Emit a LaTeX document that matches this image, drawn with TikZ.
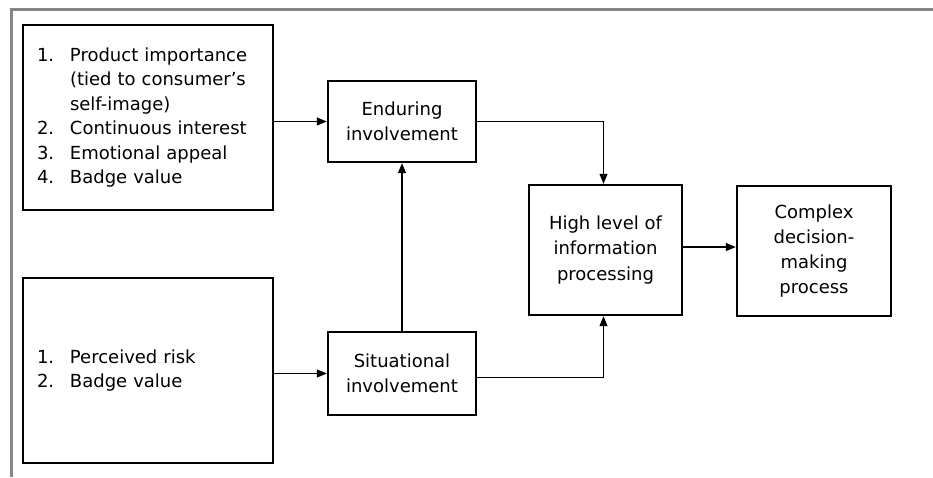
\documentclass[tikz,border=0pt]{standalone}
\usepackage{fontspec}
\setmainfont{DejaVu Sans}
\usetikzlibrary{arrows.meta}
\newcommand{\numitem}[1]{\makebox[33pt][l]{#1}}
\begin{document}
\begin{tikzpicture}[x=1pt,y=-1pt,
  box/.style={draw,line width=2.4pt,inner sep=0pt,font=\fontsize{18}{24.5}\selectfont},
  conn/.style={line width=1.1pt,-{Triangle[length=10pt,width=8pt]}}]
\useasboundingbox (0,0) rectangle (933,477);
\fill[white] (0,0) rectangle (933,477);
\draw[gray!95, line width=3pt] (933,9) -- (11,9) -- (11,477);

\node[box, minimum width=250pt, minimum height=185pt, text width=222pt, align=left] (f1) at (148,117.5)
  {\numitem{1.}Product importance\\
   \hspace*{33pt}(tied to consumer's\\
   \hspace*{33pt}self-image)\\
   \numitem{2.}Continuous interest\\
   \numitem{3.}Emotional appeal\\
   \numitem{4.}Badge value};
\node[box, minimum width=250pt, minimum height=185pt, text width=222pt, align=left] (f2) at (148,370.5)
  {\numitem{1.}Perceived risk\\
   \numitem{2.}Badge value};
\node[box, minimum width=148pt, minimum height=81pt, align=center] (e) at (402,121.5)
  {Enduring\\involvement};
\node[box, minimum width=148pt, minimum height=83pt, align=center] (s) at (402,373.5)
  {Situational\\involvement};
\node[box, minimum width=153pt, minimum height=130pt, align=center, font=\fontsize{18}{25.5}\selectfont] (h) at (605.5,250)
  {High level of\\information\\processing};
\node[box, minimum width=154pt, minimum height=130pt, align=center, font=\fontsize{18}{25}\selectfont] (c) at (814,251)
  {Complex\\decision-\\making\\process};

\coordinate (hc) at ([yshift=3pt]h.east);
\draw[conn] (f1.east |- e.west) -- (e.west);
\draw[conn] (f2.east |- s.west) -- (s.west);
\draw[conn] (s.north) -- (e.south);
\draw[conn] (e.east) -| ([xshift=-2pt]h.north);
\draw[conn] ([yshift=-4pt]s.east) -| ([xshift=-2pt]h.south);
\draw[conn] (hc) -- (c.west |- hc);
\end{tikzpicture}
\end{document}
